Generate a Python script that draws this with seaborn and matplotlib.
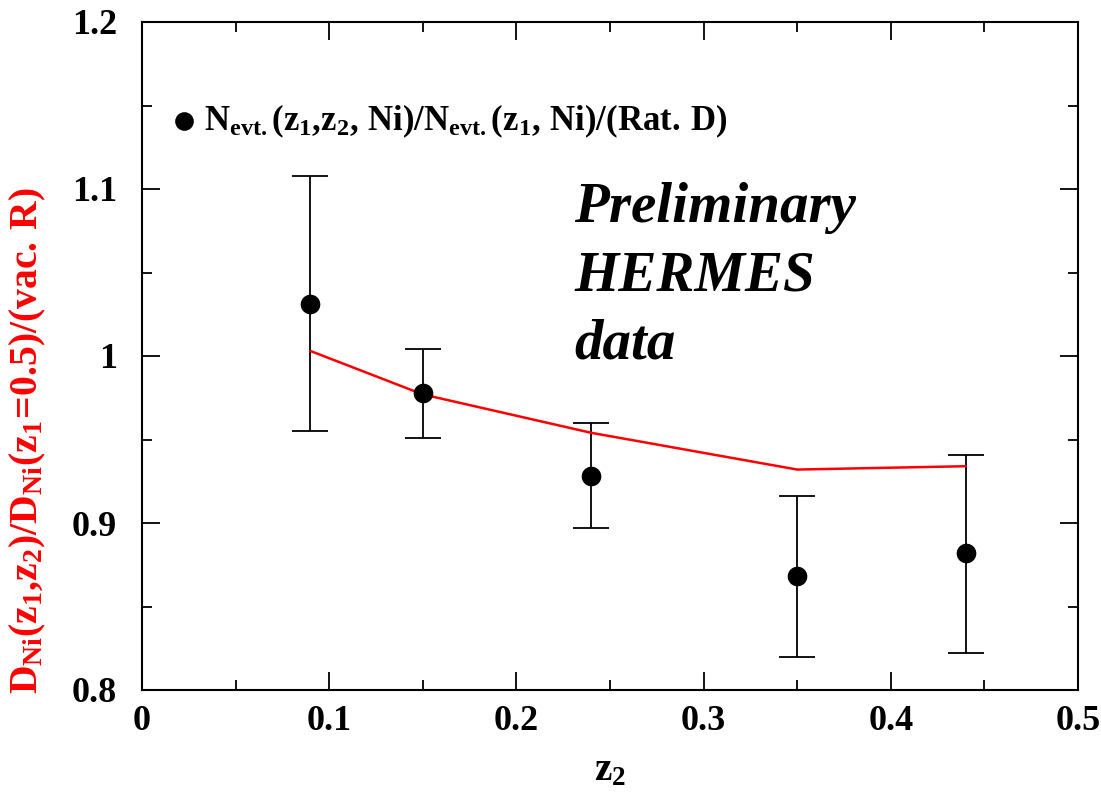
import numpy as np
import pandas as pd
import seaborn as sns
import matplotlib
matplotlib.use("Agg")
import matplotlib.pyplot as plt
from matplotlib.ticker import MultipleLocator

# ---- data ----
z2 = [0.09, 0.15, 0.24, 0.35, 0.44]
ratio = [1.031, 0.978, 0.928, 0.868, 0.882]
err_hi = [1.108, 1.004, 0.960, 0.916, 0.941]
err_lo = [0.955, 0.951, 0.897, 0.820, 0.822]
model_z2 = [0.09, 0.15, 0.24, 0.35, 0.44]
model_val = [1.003, 0.977, 0.954, 0.932, 0.934]
xticks = [0, 0.1, 0.2, 0.3, 0.4, 0.5]
yticks = [0.8, 0.9, 1.0, 1.1, 1.2]
xtick_labels = ["0", "0.1", "0.2", "0.3", "0.4", "0.5"]
ytick_labels = ["0.8", "0.9", "1", "1.1", "1.2"]
legend_label = r"$\mathrm{N_{evt.}(z_1{,}z_2{,}\ Ni)/N_{evt.}(z_1{,}\ Ni)/(Rat.\,D)}$"
ylabel = r"$\mathrm{D_{Ni}(z_1{,}z_2)/D_{Ni}(z_1\!=\!0.5)/(vac.\,R)}$"
xlabel = r"$\mathrm{z_2}$"
note = "Preliminary\nHERMES\ndata"

sns.set_theme(style="ticks")
plt.rcParams["font.family"] = ["Liberation Serif", "DejaVu Serif"]
plt.rcParams["font.weight"] = "bold"
plt.rcParams["text.color"] = "black"
plt.rcParams["axes.labelcolor"] = "black"
plt.rcParams["xtick.color"] = "black"
plt.rcParams["ytick.color"] = "black"
plt.rcParams["mathtext.fontset"] = "custom"
plt.rcParams["mathtext.rm"] = "Liberation Serif:bold"
plt.rcParams["mathtext.it"] = "Liberation Serif:bold"
plt.rcParams["mathtext.bf"] = "Liberation Serif:bold"

df = pd.DataFrame({"z2": z2, "ratio": ratio})
dm = pd.DataFrame({"z2": model_z2, "val": model_val})

fig = plt.figure(figsize=(11.01, 7.95), dpi=100)
ax = fig.add_axes([142/1101, 1-690/795, (1078-142)/1101, (690-22)/795])

yerr = np.array([np.array(ratio) - np.array(err_lo), np.array(err_hi) - np.array(ratio)])
ax.errorbar(z2, ratio, yerr=yerr, fmt="none", ecolor="black", elinewidth=1.3,
            capsize=13, capthick=1.3, zorder=2)
sns.lineplot(data=dm, x="z2", y="val", color="red", linewidth=1.8, ax=ax,
             sort=False, zorder=3, legend=False)
sns.scatterplot(data=df, x="z2", y="ratio", color="black", s=200, marker="o",
                edgecolor="black", linewidth=0, ax=ax, zorder=4, label=legend_label)

ax.set_xlim(0, 0.5)
ax.set_ylim(0.8, 1.2)
ax.set_xticks(xticks)
ax.set_xticklabels(xtick_labels)
ax.set_yticks(yticks)
ax.set_yticklabels(ytick_labels)
ax.xaxis.set_minor_locator(MultipleLocator(0.05))
ax.yaxis.set_minor_locator(MultipleLocator(0.05))
ax.tick_params(which="both", direction="in", top=True, right=True, color="black",
               width=1.3)
ax.tick_params(which="major", length=13)
ax.tick_params(which="minor", length=7)
ax.tick_params(axis="x", which="major", labelsize=26, pad=11)
ax.tick_params(axis="y", which="major", labelsize=26, pad=18)
for lab in ax.get_xticklabels() + ax.get_yticklabels():
    lab.set_fontweight("bold")
for sp in ax.spines.values():
    sp.set_linewidth(1.5)
    sp.set_color("black")

ax.set_xlabel(xlabel, fontsize=28, labelpad=10)
ax.set_ylabel(ylabel, fontsize=28.5, color="red", ha="center", va="center")
ax.yaxis.set_label_coords(-0.122, 0.374)

leg = ax.legend(loc="upper left", bbox_to_anchor=(0.025, 0.88), frameon=False,
                fontsize=25, handletextpad=0.0, markerscale=0.95, borderaxespad=0,
                borderpad=0, handlelength=1.1)

ax.text(0.462, 0.76, note, transform=ax.transAxes, fontsize=41, fontstyle="italic",
        fontweight="bold", va="top", ha="left", linespacing=1.4)

fig.savefig("out.png", dpi=100, facecolor="white")
